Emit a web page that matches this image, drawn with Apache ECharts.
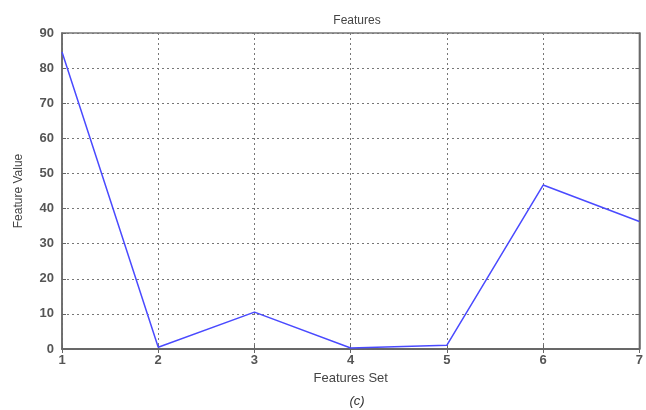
<!DOCTYPE html>
<html>
<head>
<meta charset="utf-8">
<script src="https://cdn.jsdelivr.net/npm/echarts@6/dist/echarts.min.js"></script>
<style>
  html, body { margin: 0; padding: 0; background: #fff; }
  #chart { width: 646px; height: 410px; }
</style>
</head>
<body>
<div id="chart"></div>
<script>
// Feature index along the x axis and the measured value for each feature
const featureSet = [1, 2, 3, 4, 5, 6, 7];
const featureValue = [84.6, 0.5, 10.5, 0.3, 1.1, 46.7, 36.3];
const yTicks = [0, 10, 20, 30, 40, 50, 60, 70, 80, 90];

const chart = echarts.init(document.getElementById('chart'));
const font = 'Liberation Sans, Arial, sans-serif';
const axisCol = '#666';
const gridLine = { show: true, lineStyle: { color: '#777', type: [2, 3], width: 1 } };

chart.setOption({
  animation: false,
  backgroundColor: '#fff',
  title: [
    { text: 'Features', left: 352, top: 10, textAlign: 'center',
      textStyle: { fontFamily: font, fontSize: 12, fontWeight: 'normal', color: '#444' } },
    { text: '(c)', left: 352, top: 390, textAlign: 'center',
      textStyle: { fontFamily: font, fontSize: 13, fontStyle: 'italic', fontWeight: 'normal', color: '#333' } }
  ],
  grid: { left: 62, right: 3, top: 33, bottom: 61, show: true,
          borderColor: '#777', borderWidth: 1.5, backgroundColor: 'transparent' },
  xAxis: [
    { type: 'value', min: featureSet[0], max: featureSet[featureSet.length - 1], interval: 1,
      name: 'Features Set', nameLocation: 'middle', nameGap: 21,
      nameTextStyle: { fontFamily: font, fontSize: 13, color: '#444' },
      axisLine: { show: true, lineStyle: { color: axisCol, width: 1.5 } },
      axisTick: { show: true, inside: true, length: 4, lineStyle: { color: axisCol } },
      axisLabel: { fontFamily: font, fontSize: 13, fontWeight: 'bold', color: '#555', margin: 5,
                   formatter: v => String(v) },
      splitLine: gridLine },
    { type: 'value', position: 'top', min: featureSet[0], max: featureSet[featureSet.length - 1], interval: 1,
      axisLine: { show: true, lineStyle: { color: axisCol, width: 1.5 } },
      axisTick: { show: true, inside: true, length: 4, lineStyle: { color: axisCol } },
      axisLabel: { show: false }, splitLine: { show: false } }
  ],
  yAxis: [
    { type: 'value', min: yTicks[0], max: yTicks[yTicks.length - 1], interval: 10,
      name: 'Feature Value', nameLocation: 'middle', nameGap: 37, nameRotate: 90,
      nameTextStyle: { fontFamily: font, fontSize: 12, color: '#444' },
      axisLine: { show: true, lineStyle: { color: axisCol, width: 1.5 } },
      axisTick: { show: true, inside: true, length: 4, lineStyle: { color: axisCol } },
      axisLabel: { fontFamily: font, fontSize: 13, fontWeight: 'bold', color: '#555', margin: 8 },
      splitLine: gridLine },
    { type: 'value', position: 'right', min: yTicks[0], max: yTicks[yTicks.length - 1], interval: 10,
      axisLine: { show: true, lineStyle: { color: axisCol, width: 1.5 } },
      axisTick: { show: true, inside: true, length: 4, lineStyle: { color: axisCol } },
      axisLabel: { show: false }, splitLine: { show: false } }
  ],
  series: [{
    type: 'line',
    data: featureSet.map((x, i) => [x, featureValue[i]]),
    showSymbol: false,
    lineStyle: { color: '#4a4aff', width: 1.5 },
    z: 5
  }]
});
</script>
</body>
</html>
